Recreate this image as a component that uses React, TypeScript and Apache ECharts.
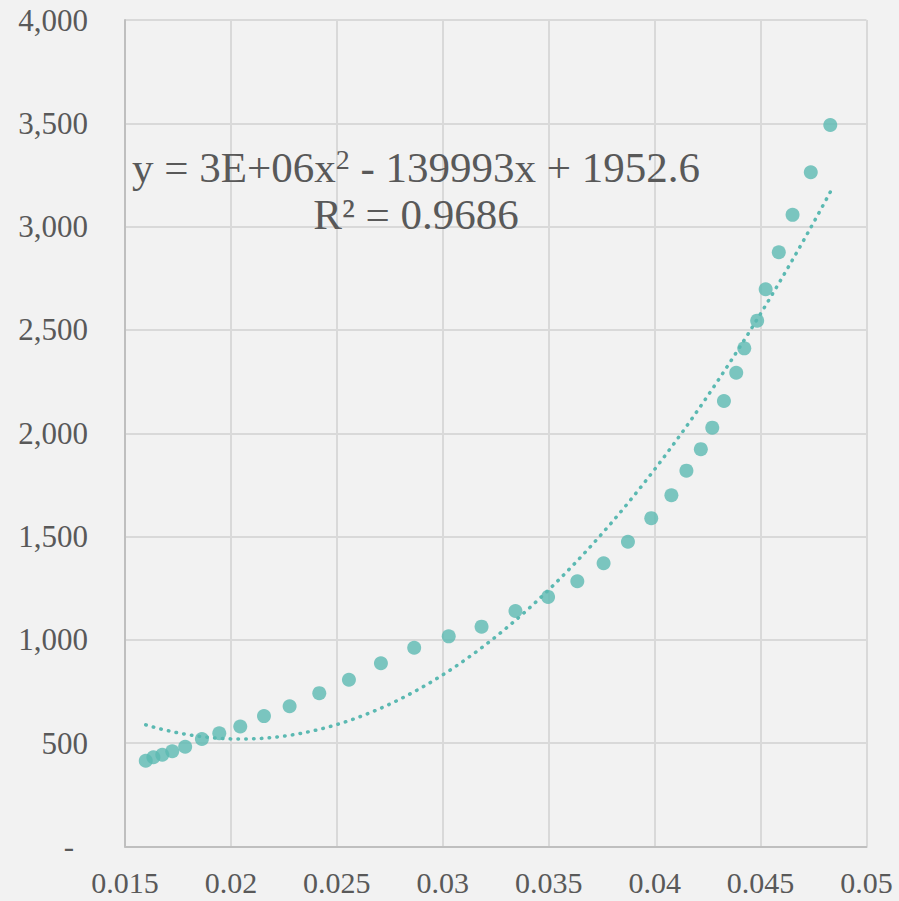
import React, { useEffect, useRef } from "react";
import * as echarts from "echarts";

// Data
const X_VALUES = [
  0.01598, 0.01634, 0.01676, 0.01723, 0.01784, 0.01863, 0.01945, 0.02044,
  0.02156, 0.02277, 0.02417, 0.02557, 0.02708, 0.02865, 0.03028, 0.03183,
  0.03343, 0.03497, 0.03635, 0.03759, 0.03874, 0.03984, 0.04079, 0.0415,
  0.04218, 0.04272, 0.04327, 0.04385, 0.04423, 0.04484, 0.04524, 0.04586,
  0.04651, 0.04737, 0.04829,
];
const Y_VALUES = [
  415, 432, 444, 461, 483, 520, 548, 581, 631, 679, 742, 807, 887, 962, 1017,
  1064, 1140, 1208, 1284, 1371, 1475, 1589, 1700, 1819, 1923, 2027, 2156, 2293,
  2411, 2545, 2697, 2876, 3057, 3263, 3492,
];
const X_TICKS = [0.015, 0.02, 0.025, 0.03, 0.035, 0.04, 0.045, 0.05];
const Y_TICKS = [0, 500, 1000, 1500, 2000, 2500, 3000, 3500, 4000];
// polynomial trendline coefficients (label shows a rounded to 3E+06; drawn curve fits ~3.42E+06)
const TREND_COEFFS = [3.42e6, -139993, 1952.6];
const EQUATION_PARTS = ["y = 3E+06x", "2", "\u00a0- 139993x + 1952.6"];
const R2_LABEL = "R\u00b2 = 0.9686";

const COLOR = "#5bb9b2";
const TEXT = "#595959";
const FONT = "'Liberation Serif', 'Times New Roman', serif";

export default function App() {
  const ref = useRef<HTMLDivElement>(null);

  useEffect(() => {
    if (!ref.current) return;
    const chart = echarts.init(ref.current, null, { renderer: "svg" });

    const [a2, b1, c0] = TREND_COEFFS;
    const xmin = Math.min(...X_VALUES);
    const xmax = Math.max(...X_VALUES);
    const trend: number[][] = [];
    const steps = 200;
    for (let i = 0; i <= steps; i++) {
      const x = xmin + ((xmax - xmin) * i) / steps;
      trend.push([x, a2 * x * x + b1 * x + c0]);
    }

    const points = X_VALUES.map((x, i) => [x, Y_VALUES[i]]);

    chart.setOption({
      animation: false,
      backgroundColor: "#f2f2f2",
      textStyle: { fontFamily: FONT },
      grid: { left: 125, right: 32.5, top: 20, bottom: 54.5, containLabel: false },
      xAxis: {
        type: "value",
        min: X_TICKS[0],
        max: X_TICKS[X_TICKS.length - 1],
        interval: X_TICKS[1] - X_TICKS[0],
        axisLine: { show: true, onZero: false, lineStyle: { color: "#bfbfbf", width: 2 } },
        axisTick: { show: false },
        splitLine: { show: true, lineStyle: { color: "#d9d9d9", width: 2 } },
        axisLabel: {
          color: TEXT,
          fontSize: 30,
          lineHeight: 24,
          fontFamily: FONT,
          margin: 24,
          showMinLabel: true,
          showMaxLabel: true,
          formatter: (v: number) => String(parseFloat(v.toFixed(4))),
        },
      },
      yAxis: {
        type: "value",
        min: Y_TICKS[0],
        max: Y_TICKS[Y_TICKS.length - 1],
        interval: Y_TICKS[1] - Y_TICKS[0],
        axisLine: { show: true, lineStyle: { color: "#bfbfbf", width: 2 } },
        axisTick: { show: false },
        splitLine: { show: true, lineStyle: { color: "#d9d9d9", width: 2 } },
        axisLabel: {
          color: TEXT,
          fontSize: 31,
          fontFamily: FONT,
          margin: 37,
          showMinLabel: true,
          showMaxLabel: true,
          formatter: (v: number) =>
            v === 0 ? "{d|-}" : Math.round(v).toLocaleString("en-US"),
          rich: {
            d: { color: TEXT, fontSize: 31, fontFamily: FONT, padding: [0, 14, 0, 0] },
          },
        },
      },
      series: [
        {
          type: "line",
          data: trend,
          showSymbol: false,
          symbol: "none",
          smooth: false,
          lineStyle: { color: COLOR, width: 3.5, type: [0.5, 7.3], cap: "round" },
          z: 2,
          silent: true,
        },
        {
          type: "scatter",
          data: points,
          symbolSize: 14,
          itemStyle: { color: COLOR },
          z: 3,
        },
      ],
      graphic: [
        {
          type: "text",
          x: 416,
          y: 167,
          z: 10,
          style: {
            text:
              "{n|" + EQUATION_PARTS[0] + "}{s|" + EQUATION_PARTS[1] + "}{n|" + EQUATION_PARTS[2] + "}",
            align: "center",
            verticalAlign: "middle",
            rich: {
              n: { fontSize: 43, fontFamily: FONT, fill: TEXT, lineHeight: 43 },
              s: { fontSize: 28, fontFamily: FONT, fill: TEXT, lineHeight: 32, verticalAlign: "top" },
            },
          },
        },
        {
          type: "text",
          x: 416,
          y: 214,
          z: 10,
          style: {
            text: R2_LABEL,
            fontSize: 43,
            fontFamily: FONT,
            fill: TEXT,
            align: "center",
            verticalAlign: "middle",
          },
        },
      ],
    });

    return () => chart.dispose();
  }, []);

  return (
    <div
      ref={ref}
      style={{ position: "fixed", left: 0, top: 0, width: 899, height: 901 }}
    />
  );
}
